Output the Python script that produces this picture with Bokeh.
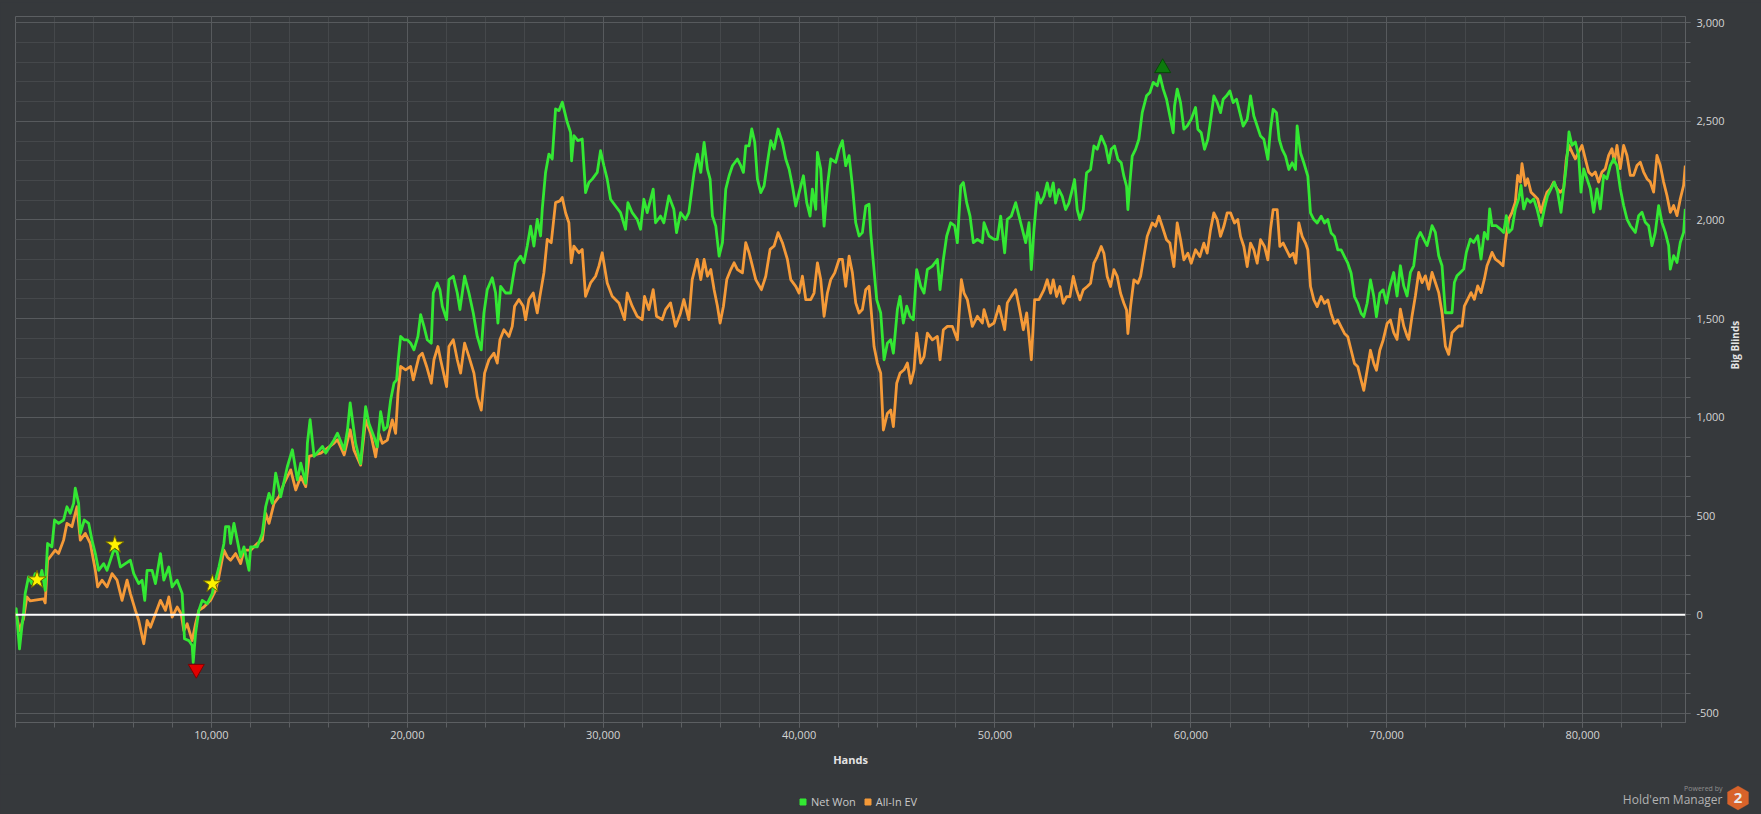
import math
from bokeh.plotting import figure
from bokeh.layouts import column
from bokeh.models import (Range1d, FixedTicker, NumeralTickFormatter, Span, Legend,
                          LegendItem, Label, PolyAnnotation)
from bokeh.embed import file_html
from bokeh.resources import INLINE

# ---------------- data ----------------
net_hands = [
    0, 34, 205, 324, 409, 494, 665, 835, 1006, 1176,
    1347, 1517, 1637, 1858, 1995, 2199, 2455, 2626, 2796, 2967,
    3052, 3222, 3308, 3512, 3734, 3904, 4075, 4245, 4501, 4672,
    4842, 5013, 5183, 5354, 5609, 5865, 6036, 6291, 6462, 6598,
    6718, 6973, 7144, 7400, 7570, 7826, 7996, 8252, 8508, 8627,
    8849, 9019, 9071, 9190, 9360, 9531, 9787, 10042, 10213, 10383,
    10639, 10724, 10895, 10980, 11151, 11321, 11492, 11662, 11918, 12003,
    12344, 12600, 12770, 12941, 13111, 13282, 13538, 13879, 14134, 14390,
    14561, 14816, 14902, 15038, 15243, 15669, 15840, 16266, 16436, 16777,
    16948, 17084, 17363, 17619, 17874, 18044, 18299, 18469, 18639, 18809,
    18979, 19150, 19320, 19456, 19524, 19660, 19830, 20000, 20170, 20340,
    20544, 20680, 20851, 21021, 21225, 21327, 21531, 21667, 21786, 22007,
    22126, 22347, 22552, 22688, 22926, 23147, 23368, 23572, 23776, 23912,
    24082, 24338, 24508, 24627, 24763, 25018, 25273, 25409, 25528, 25783,
    25954, 26124, 26294, 26464, 26634, 26804, 26889, 27059, 27229, 27399,
    27569, 27740, 27910, 28165, 28335, 28386, 28505, 28709, 28930, 29100,
    29270, 29441, 29696, 29866, 30036, 30206, 30376, 30631, 30886, 31142,
    31261, 31482, 31737, 31907, 32077, 32247, 32553, 32672, 32928, 33098,
    33353, 33608, 33744, 33948, 34203, 34373, 34642, 34812, 34982, 35152,
    35322, 35458, 35577, 35748, 35918, 36088, 36258, 36428, 36598, 36853,
    37023, 37159, 37278, 37449, 37585, 37738, 37874, 38044, 38214, 38384,
    38554, 38724, 38928, 39150, 39320, 39490, 39660, 39830, 40000, 40221,
    40391, 40561, 40680, 40851, 40936, 41106, 41276, 41446, 41616, 41871,
    42041, 42211, 42381, 42552, 42722, 42892, 43062, 43232, 43402, 43572,
    43657, 43793, 43963, 44167, 44338, 44508, 44678, 44814, 45018, 45154,
    45324, 45494, 45664, 45834, 46005, 46209, 46379, 46549, 46804, 47059,
    47195, 47365, 47535, 47739, 47944, 48080, 48250, 48386, 48556, 48726,
    48896, 49100, 49356, 49441, 49696, 49951, 50121, 50291, 50495, 50631,
    50835, 51057, 51227, 51397, 51567, 51737, 51856, 51992, 52162, 52329,
    52499, 52669, 52805, 52975, 53094, 53264, 53434, 53604, 53774, 53944,
    54063, 54199, 54335, 54506, 54676, 54880, 55050, 55220, 55424, 55645,
    55815, 55935, 56105, 56275, 56445, 56581, 56717, 56785, 56887, 57006,
    57176, 57346, 57516, 57737, 57908, 58078, 58282, 58418, 58588, 58758,
    58928, 59098, 59167, 59303, 59473, 59643, 59813, 60017, 60238, 60357,
    60527, 60697, 60868, 61038, 61174, 61344, 61514, 61650, 61820, 61990,
    62160, 62330, 62500, 62671, 62875, 63045, 63215, 63385, 63555, 63725,
    63929, 64065, 64201, 64372, 64508, 64661, 64831, 65001, 65171, 65341,
    65426, 65596, 65766, 65970, 66107, 66277, 66447, 66651, 66821, 66991,
    67161, 67331, 67501, 67672, 67842, 68012, 68182, 68352, 68522, 68692,
    68828, 68998, 69168, 69338, 69474, 69645, 69815, 69985, 70155, 70355,
    70525, 70695, 70866, 71036, 71206, 71376, 71546, 71716, 71886, 72056,
    72192, 72311, 72481, 72652, 72822, 72992, 73162, 73332, 73451, 73585,
    73757, 73927, 74063, 74267, 74437, 74642, 74812, 74982, 75152, 75254,
    75373, 75594, 75799, 75969, 76105, 76224, 76394, 76564, 76734, 76853,
    76989, 77159, 77329, 77500, 77670, 77874, 78044, 78214, 78384, 78554,
    78724, 78894, 79030, 79167, 79303, 79456, 79626, 79796, 79915, 80051,
    80221, 80391, 80561, 80731, 80902, 81072, 81242, 81412, 81582, 81752,
    81922, 82092, 82262, 82432, 82688, 82858, 83028, 83198, 83368, 83538,
    83708, 83878, 84048, 84218, 84389, 84474, 84644, 84814, 84984, 85154,
    85239,
]
net_won = [
    0, 31, -173, -63, 5, 107, 192, 158, 208, 158,
    225, 124, 361, 344, 480, 463, 480, 547, 514, 564,
    641, 564, 412, 480, 463, 378, 310, 225, 259, 225,
    276, 327, 319, 242, 259, 276, 208, 158, 175, 73,
    225, 225, 158, 310, 175, 242, 141, 175, 107, -122,
    -131, -156, -241, -97, 22, 73, 56, 107, 175, 242,
    361, 446, 446, 361, 463, 378, 293, 344, 225, 344,
    344, 412, 547, 615, 564, 717, 598, 751, 836, 683,
    768, 666, 870, 988, 802, 853, 819, 887, 920, 836,
    937, 1073, 868, 766, 1054, 969, 902, 851, 1029, 936,
    953, 1088, 1173, 1190, 1275, 1410, 1393, 1393, 1376, 1342,
    1410, 1520, 1461, 1393, 1376, 1630, 1681, 1647, 1563, 1495,
    1698, 1715, 1630, 1546, 1715, 1630, 1529, 1410, 1342, 1529,
    1647, 1707, 1630, 1478, 1664, 1630, 1630, 1715, 1783, 1817,
    1783, 1868, 1969, 1868, 2003, 1919, 2054, 2241, 2334, 2309,
    2563, 2554, 2597, 2495, 2444, 2300, 2427, 2402, 2410, 2139,
    2190, 2207, 2241, 2351, 2275, 2207, 2105, 2071, 2037, 1953,
    2088, 2037, 2003, 1953, 2105, 2037, 2156, 1986, 2020, 1986,
    2122, 2054, 1936, 2037, 2003, 2037, 2241, 2334, 2241, 2393,
    2258, 2207, 2020, 1969, 1817, 1885, 2156, 2224, 2275, 2309,
    2275, 2241, 2376, 2376, 2461, 2393, 2207, 2139, 2173, 2292,
    2402, 2360, 2461, 2393, 2309, 2258, 2173, 2071, 2139, 2224,
    2088, 2020, 2156, 2054, 2342, 2258, 1969, 2173, 2309, 2292,
    2360, 2402, 2275, 2326, 2173, 1986, 1919, 1936, 2071, 2080,
    1936, 1783, 1597, 1529, 1292, 1376, 1393, 1325, 1546, 1613,
    1478, 1563, 1512, 1495, 1749, 1664, 1630, 1749, 1766, 1800,
    1647, 1800, 1919, 1986, 1970, 1885, 2173, 2190, 2088, 2020,
    1885, 1902, 1885, 1986, 1919, 1902, 1902, 2020, 1834, 2003,
    2020, 2088, 2020, 1953, 1885, 1986, 1749, 1953, 2139, 2086,
    2120, 2188, 2120, 2188, 2086, 2154, 2120, 2053, 2086, 2154,
    2205, 2053, 2002, 2053, 2239, 2256, 2375, 2358, 2425, 2375,
    2290, 2358, 2375, 2307, 2290, 2222, 2171, 2053, 2188, 2324,
    2358, 2409, 2544, 2629, 2646, 2697, 2680, 2731, 2663, 2612,
    2527, 2442, 2578, 2663, 2595, 2460, 2476, 2510, 2570, 2460,
    2442, 2358, 2409, 2527, 2629, 2595, 2544, 2612, 2629, 2654,
    2595, 2612, 2544, 2476, 2510, 2629, 2527, 2476, 2425, 2409,
    2307, 2460, 2561, 2544, 2409, 2358, 2324, 2256, 2290, 2256,
    2477, 2341, 2290, 2222, 2036, 2002, 1985, 2019, 1985, 2002,
    1934, 1917, 1849, 1849, 1815, 1781, 1730, 1612, 1578, 1527,
    1510, 1578, 1697, 1612, 1510, 1629, 1646, 1578, 1663, 1734,
    1615, 1768, 1666, 1615, 1734, 1768, 1903, 1937, 1903, 1870,
    1920, 1971, 1937, 1819, 1768, 1530, 1530, 1530, 1683, 1717,
    1734, 1751, 1836, 1903, 1886, 1920, 1802, 1937, 1903, 2056,
    1971, 1971, 1954, 1937, 2022, 1937, 1954, 2056, 2107, 2175,
    2056, 2107, 2090, 2107, 2056, 1971, 2056, 2124, 2158, 2192,
    2141, 2039, 2158, 2276, 2446, 2378, 2395, 2327, 2141, 2259,
    2209, 2158, 2039, 2158, 2056, 2226, 2209, 2276, 2310, 2276,
    2158, 2073, 2005, 1971, 1937, 2022, 2039, 1988, 1971, 1870,
    1937, 2073, 1988, 1937, 1870, 1751, 1819, 1785, 1886, 1937,
    2056,
]

ev_hands = [
    0, 34, 205, 409, 580, 750, 1091, 1432, 1517, 1637,
    2029, 2199, 2455, 2626, 2881, 3137, 3308, 3563, 3819, 4075,
    4194, 4416, 4672, 4927, 5183, 5439, 5695, 5865, 6121, 6291,
    6547, 6718, 6888, 7144, 7400, 7655, 7826, 7996, 8252, 8457,
    8593, 8764, 9019, 9190, 9360, 9616, 9957, 10213, 10383, 10639,
    10810, 10980, 11236, 11492, 11662, 12003, 12344, 12600, 12770, 12941,
    13197, 13452, 13708, 14049, 14305, 14561, 14816, 14987, 15584, 16266,
    16436, 16777, 17084, 17278, 17619, 17874, 18129, 18384, 18554, 18724,
    18979, 19235, 19405, 19524, 19660, 19915, 20170, 20306, 20595, 20765,
    20987, 21225, 21361, 21565, 21701, 22007, 22126, 22347, 22552, 22722,
    22926, 23147, 23402, 23572, 23776, 23946, 24167, 24423, 24593, 24729,
    24933, 25188, 25358, 25477, 25698, 25919, 26039, 26209, 26430, 26634,
    26770, 26974, 27144, 27348, 27569, 27791, 27910, 28080, 28250, 28369,
    28505, 28760, 28930, 29100, 29356, 29611, 29781, 29951, 30206, 30461,
    30801, 31091, 31227, 31482, 31737, 31992, 32111, 32332, 32553, 32723,
    33013, 33183, 33438, 33693, 33948, 34118, 34373, 34544, 34799, 34982,
    35152, 35322, 35492, 35663, 35833, 35969, 36139, 36309, 36513, 36683,
    36853, 37108, 37278, 37449, 37619, 37789, 38078, 38299, 38520, 38724,
    38928, 39150, 39405, 39575, 39830, 40000, 40170, 40340, 40595, 40765,
    40936, 41106, 41276, 41446, 41616, 41820, 42041, 42211, 42381, 42552,
    42722, 42892, 43062, 43232, 43402, 43572, 43691, 43827, 43997, 44167,
    44303, 44508, 44678, 44814, 44984, 45154, 45358, 45528, 45698, 45868,
    46005, 46209, 46379, 46549, 46804, 47059, 47195, 47365, 47569, 47825,
    48080, 48284, 48420, 48590, 48845, 49100, 49356, 49441, 49696, 49951,
    50206, 50495, 50631, 50835, 51057, 51227, 51448, 51618, 51856, 52026,
    52247, 52499, 52669, 52839, 52975, 53145, 53315, 53485, 53655, 53826,
    53996, 54166, 54336, 54506, 54710, 54880, 55050, 55220, 55424, 55560,
    55730, 55901, 56071, 56241, 56411, 56581, 56717, 56785, 56921, 57091,
    57295, 57431, 57601, 57772, 58027, 58197, 58367, 58537, 58758, 58928,
    59133, 59303, 59473, 59643, 59847, 60017, 60238, 60459, 60663, 60833,
    61004, 61174, 61344, 61514, 61684, 61854, 62024, 62228, 62398, 62534,
    62705, 62875, 63045, 63215, 63385, 63555, 63759, 63929, 64065, 64201,
    64406, 64542, 64712, 64882, 65052, 65222, 65358, 65511, 65681, 65851,
    65970, 66107, 66277, 66447, 66651, 66821, 66991, 67161, 67331, 67501,
    67672, 67842, 68012, 68182, 68352, 68522, 68692, 68828, 68998, 69168,
    69338, 69474, 69645, 69815, 70019, 70189, 70355, 70525, 70695, 70866,
    71036, 71121, 71291, 71461, 71631, 71801, 71971, 72141, 72311, 72481,
    72652, 72822, 72992, 73162, 73332, 73502, 73672, 73842, 73961, 74131,
    74301, 74472, 74642, 74812, 74982, 75118, 75254, 75373, 75543, 75764,
    75935, 76054, 76224, 76394, 76564, 76683, 76819, 76904, 77074, 77193,
    77363, 77534, 77704, 77874, 78010, 78180, 78350, 78520, 78690, 78860,
    79030, 79167, 79303, 79456, 79626, 79796, 79966, 80136, 80306, 80476,
    80646, 80816, 80987, 81157, 81327, 81497, 81616, 81752, 81922, 82092,
    82262, 82432, 82602, 82773, 82943, 83113, 83283, 83453, 83623, 83793,
    83963, 84133, 84303, 84474, 84644, 84814, 84984, 85154, 85239,
]
allin_ev = [
    0, 5, -80, -20, 90, 70, 75, 80, 60, 276,
    327, 310, 378, 463, 446, 547, 378, 412, 361, 225,
    141, 175, 141, 208, 175, 73, 175, 107, 22, -29,
    -147, -29, -63, 5, 73, 22, 90, -12, 39, 5,
    -80, -46, -131, -46, 22, 39, 73, 124, 192, 327,
    293, 276, 310, 259, 327, 327, 361, 378, 514, 463,
    564, 598, 666, 734, 632, 700, 649, 802, 819, 870,
    887, 810, 937, 834, 758, 987, 919, 800, 919, 868,
    885, 987, 919, 1122, 1258, 1241, 1258, 1190, 1308, 1325,
    1258, 1173, 1292, 1359, 1292, 1156, 1359, 1393, 1292, 1224,
    1376, 1308, 1224, 1105, 1037, 1224, 1292, 1325, 1275, 1393,
    1444, 1410, 1461, 1563, 1597, 1563, 1495, 1597, 1630, 1529,
    1613, 1732, 1902, 1885, 2088, 2097, 2114, 2037, 1986, 1783,
    1868, 1834, 1851, 1613, 1681, 1715, 1766, 1834, 1681, 1613,
    1580, 1495, 1630, 1563, 1512, 1495, 1613, 1546, 1647, 1512,
    1495, 1546, 1580, 1461, 1529, 1597, 1495, 1698, 1800, 1698,
    1800, 1715, 1749, 1647, 1563, 1478, 1563, 1698, 1749, 1783,
    1749, 1732, 1885, 1834, 1766, 1698, 1647, 1715, 1851, 1868,
    1936, 1885, 1800, 1698, 1664, 1630, 1715, 1597, 1597, 1630,
    1783, 1698, 1512, 1630, 1698, 1732, 1800, 1800, 1664, 1817,
    1732, 1580, 1529, 1546, 1647, 1664, 1529, 1359, 1275, 1224,
    936, 1020, 1037, 953, 1173, 1224, 1241, 1275, 1173, 1241,
    1427, 1275, 1308, 1427, 1393, 1410, 1292, 1444, 1461, 1461,
    1393, 1698, 1630, 1597, 1461, 1512, 1478, 1546, 1461, 1478,
    1563, 1444, 1580, 1613, 1647, 1563, 1444, 1529, 1292, 1597,
    1597, 1646, 1697, 1629, 1697, 1612, 1663, 1578, 1612, 1612,
    1714, 1646, 1595, 1646, 1663, 1680, 1781, 1815, 1866, 1832,
    1714, 1663, 1748, 1714, 1629, 1578, 1544, 1425, 1561, 1697,
    1680, 1714, 1815, 1917, 1985, 1968, 2019, 1968, 1900, 1883,
    1764, 1985, 1900, 1798, 1832, 1781, 1849, 1815, 1883, 1832,
    1951, 2036, 2002, 1917, 1968, 2036, 2036, 1985, 2002, 1917,
    1866, 1764, 1883, 1849, 1781, 1900, 1866, 1798, 1951, 2053,
    2053, 1866, 1883, 1849, 1815, 1832, 1781, 1985, 1917, 1883,
    1849, 1663, 1595, 1561, 1612, 1578, 1595, 1527, 1476, 1493,
    1459, 1425, 1408, 1340, 1273, 1256, 1188, 1137, 1239, 1340,
    1273, 1239, 1340, 1391, 1476, 1493, 1429, 1395, 1548, 1463,
    1412, 1395, 1514, 1615, 1734, 1683, 1717, 1649, 1734, 1683,
    1632, 1530, 1361, 1319, 1429, 1446, 1463, 1463, 1564, 1598,
    1632, 1598, 1666, 1632, 1700, 1768, 1802, 1836, 1802, 1785,
    1768, 1886, 2005, 2039, 2090, 2226, 2192, 2285, 2175, 2209,
    2141, 2124, 2107, 2039, 2090, 2141, 2158, 2192, 2158, 2141,
    2158, 2310, 2378, 2344, 2310, 2344, 2378, 2310, 2243, 2226,
    2243, 2192, 2243, 2260, 2327, 2361, 2293, 2378, 2260, 2378,
    2327, 2226, 2226, 2276, 2293, 2243, 2209, 2192, 2141, 2327,
    2276, 2192, 2124, 2039, 2073, 2022, 2107, 2175, 2276,
]

star_hands = [1100, 5070, 10050]
star_bb = [177, 355, 157]
low_hands = [9230]
low_bb = [-275]
high_hands = [58560]
high_bb = [2770]

series_names = ["Net Won", "All-In EV"]
hand_ticks = [10000, 20000, 30000, 40000, 50000, 60000, 70000, 80000]
hand_minor_ticks = list(range(0, 86000, 2000))
bb_ticks = [-500, 0, 500, 1000, 1500, 2000, 2500, 3000]
bb_minor_ticks = list(range(-500, 3001, 100))

# ---------------- style ----------------
W = 1761
BG = "#36393c"
MINOR = "#45484b"
MAJOR = "#575a5d"
FRAME = "#5c5f62"
GREEN = "#33e833"
ORANGE = "#f59a38"
TEXT = "#d4d4d4"
TOPBAR = "#e8922c"
FONT = "Open Sans"


def no_align(fig):
    if "frame_align" in fig.properties():
        fig.frame_align = False


# thin orange strip along the very top
top = figure(width=W, height=2, output_backend="svg", toolbar_location=None,
             x_axis_type=None, y_axis_type=None, min_border=0,
             background_fill_color=TOPBAR, border_fill_color=TOPBAR,
             outline_line_color=None)
no_align(top)

# main chart
p = figure(width=W, height=772, output_backend="svg", toolbar_location=None,
           x_range=Range1d(0, 85250), y_range=Range1d(-546, 3031),
           y_axis_location="right",
           min_border_left=15, min_border_right=76, min_border_top=14, min_border_bottom=52,
           background_fill_color=BG, border_fill_color=BG,
           outline_line_color=FRAME, outline_line_width=1)
no_align(p)

xa = p.xaxis[0]
xa.ticker = FixedTicker(ticks=hand_ticks, minor_ticks=hand_minor_ticks)
xa.formatter = NumeralTickFormatter(format="0,0")
xa.axis_label = "Hands"
xa.axis_label_text_font = FONT
xa.axis_label_text_font_size = "11px"
xa.axis_label_text_font_style = "bold"
xa.axis_label_text_color = "#e4e4e4"
xa.axis_label_standoff = 10
xa.major_label_text_font = FONT
xa.major_label_text_font_size = "11px"
xa.major_label_text_color = TEXT
xa.major_label_standoff = 3
xa.major_tick_out = 5
xa.major_tick_in = 0
xa.minor_tick_out = 5
xa.minor_tick_in = 0
xa.major_tick_line_color = FRAME
xa.minor_tick_line_color = FRAME
xa.axis_line_color = FRAME

ya = p.yaxis[0]
ya.ticker = FixedTicker(ticks=bb_ticks, minor_ticks=bb_minor_ticks)
ya.formatter = NumeralTickFormatter(format="0,0")
ya.axis_label = "Big Blinds"
ya.axis_label_text_font = FONT
ya.axis_label_text_font_size = "10px"
ya.axis_label_text_font_style = "bold"
ya.axis_label_text_color = "#e4e4e4"
ya.axis_label_standoff = 7
if "axis_label_orientation" in ya.properties():
    ya.axis_label_orientation = math.pi / 2
ya.major_label_text_font = FONT
ya.major_label_text_font_size = "11px"
ya.major_label_text_color = TEXT
ya.major_label_standoff = 6
ya.major_tick_out = 5
ya.major_tick_in = 0
ya.minor_tick_out = 5
ya.minor_tick_in = 0
ya.major_tick_line_color = FRAME
ya.minor_tick_line_color = FRAME
ya.axis_line_color = FRAME

for g in (p.xgrid[0], p.ygrid[0]):
    g.grid_line_color = MAJOR
    g.grid_line_width = 1
    g.minor_grid_line_color = MINOR
    g.minor_grid_line_width = 1

p.line(ev_hands, allin_ev, line_color=ORANGE, line_width=2.8, line_join="round")
p.line(net_hands, net_won, line_color=GREEN, line_width=2.8, line_join="round")

p.add_layout(Span(location=0, dimension="width", line_color="#ffffff", line_width=2))

p.scatter(star_hands, star_bb, marker="star", size=19, fill_color="#fff200",
          line_color="#6e6600", line_width=1)
p.scatter(low_hands, low_bb, marker="inverted_triangle", size=16, fill_color="#e10000",
          line_color="#800000", line_width=1)
p.scatter(high_hands, high_bb, marker="triangle", size=16, fill_color="#0c7a0c",
          line_color="#064a06", line_width=1)

# bottom strip: legend and "Powered by Hold'em Manager 2" badge
q = figure(width=W, height=40, output_backend="svg", toolbar_location=None,
           x_axis_type=None, y_axis_type=None, min_border=0,
           x_range=Range1d(0, W), y_range=Range1d(0, 40),
           background_fill_color=BG, border_fill_color=BG, outline_line_color=None)
no_align(q)

# legend swatches: one point each, kept outside the visible range
leg_net = q.scatter(x=[-500], y=[-500], marker="square", fill_color=GREEN, line_color=GREEN)
leg_ev = q.scatter(x=[-500], y=[-500], marker="square", fill_color=ORANGE, line_color=ORANGE)
legend = Legend(items=[LegendItem(label=series_names[0], renderers=[leg_net]),
                       LegendItem(label=series_names[1], renderers=[leg_ev])],
                orientation="horizontal", location=(795, 5.5),
                glyph_width=15, glyph_height=15, label_height=15,
                label_standoff=1, spacing=4, padding=0, margin=0,
                background_fill_alpha=0, border_line_alpha=0,
                label_text_font=FONT, label_text_font_size="11px",
                label_text_color="#c8c8c8")
q.add_layout(legend)

q.add_layout(Label(x=1722, y=26, x_units="screen", y_units="screen", text="Powered by",
                   text_align="right", text_baseline="middle", text_font=FONT,
                   text_font_size="7px", text_color="#8e8e8e"))
q.add_layout(Label(x=1722, y=15, x_units="screen", y_units="screen", text="Hold'em Manager",
                   text_align="right", text_baseline="middle", text_font=FONT,
                   text_font_size="12px", text_color="#b2b2b2"))
cx, cy = 1737.5, 16.5
q.add_layout(PolyAnnotation(xs=[cx, cx + 10.5, cx + 10.5, cx, cx - 10.5, cx - 10.5],
                            ys=[cy + 12, cy + 6, cy - 6, cy - 12, cy - 6, cy + 6],
                            xs_units="screen", ys_units="screen",
                            fill_color="#d8632a", fill_alpha=1, line_color="#d8632a"))
q.add_layout(Label(x=cx, y=cy, x_units="screen", y_units="screen", text="2",
                   text_align="center", text_baseline="middle", text_font=FONT,
                   text_font_size="15px", text_font_style="bold", text_color="#e9e9e9"))

layout = column(top, p, q, spacing=0, styles={"background-color": BG})
open("out.html", "w").write(file_html(layout, INLINE))
